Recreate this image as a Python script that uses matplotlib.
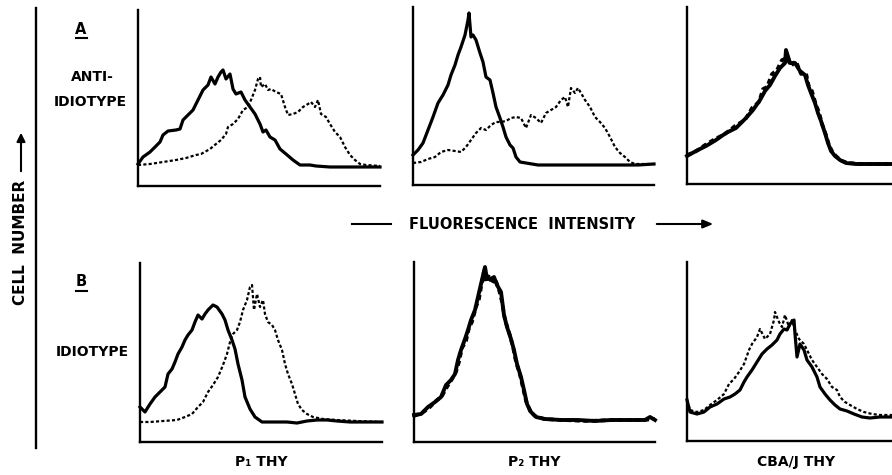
import matplotlib
matplotlib.use("Agg")
import matplotlib.pyplot as plt
from matplotlib.lines import Line2D
from matplotlib.patches import FancyArrowPatch

# Histograms (channel vs. cell count, arbitrary units)
# Row A: anti-idiotype
a1_solid_x = [0, 5, 12, 17, 22, 25, 30, 38, 42, 45, 50, 55, 60, 65, 70, 73, 77, 80, 83, 85, 88, 92, 95, 98, 103, 107, 112, 117, 122, 125, 128, 132, 137, 142, 148, 155, 162, 172, 178, 192, 208, 225, 242]
a1_solid_y = [22, 29, 34, 39, 44, 51, 55, 56, 57, 66, 71, 76, 86, 96, 101, 109, 102, 109, 114, 116, 107, 112, 97, 92, 94, 86, 79, 72, 62, 54, 56, 49, 46, 37, 32, 26, 21, 21, 20, 19, 19, 19, 19]
a1_dot_x = [0, 12, 25, 38, 48, 58, 63, 72, 78, 83, 88, 90, 95, 100, 105, 110, 113, 117, 120, 122, 123, 127, 130, 133, 138, 143, 147, 150, 155, 160, 165, 170, 173, 177, 180, 183, 188, 192, 197, 202, 207, 212, 217, 222, 228, 242]
a1_dot_y = [21, 22, 24, 26, 28, 31, 32, 37, 42, 46, 52, 59, 62, 67, 76, 79, 86, 96, 107, 109, 99, 102, 96, 97, 94, 92, 79, 71, 72, 74, 79, 82, 84, 79, 86, 72, 69, 62, 54, 49, 39, 31, 26, 22, 21, 20]

a2_solid_x = [0, 5, 10, 15, 20, 25, 30, 35, 38, 42, 45, 48, 52, 55, 56, 58, 60, 63, 67, 70, 73, 77, 80, 83, 87, 90, 93, 97, 100, 103, 107, 113, 125, 142, 158, 192, 225, 241]
a2_solid_y = [30, 35, 42, 55, 68, 82, 90, 100, 110, 120, 130, 138, 150, 165, 172, 148, 150, 145, 132, 123, 108, 105, 92, 78, 67, 58, 48, 40, 37, 28, 23, 22, 20, 20, 20, 20, 20, 21]
a2_dot_x = [0, 8, 15, 22, 28, 35, 42, 48, 53, 58, 63, 68, 73, 78, 83, 88, 93, 98, 103, 108, 113, 118, 123, 128, 133, 138, 143, 148, 152, 155, 158, 162, 165, 168, 172, 177, 182, 187, 192, 197, 202, 207, 212, 217, 222, 241]
a2_dot_y = [22, 23, 26, 28, 33, 35, 34, 33, 38, 45, 52, 57, 55, 60, 63, 63, 64, 67, 68, 67, 57, 70, 67, 62, 72, 75, 78, 85, 88, 78, 97, 92, 97, 92, 85, 78, 68, 63, 57, 48, 38, 32, 28, 23, 21, 21]

a3_solid_x = [0, 9, 19, 29, 39, 49, 59, 66, 73, 78, 83, 88, 93, 98, 99, 103, 108, 113, 118, 121, 124, 128, 131, 134, 138, 141, 144, 148, 153, 159, 169, 186, 205]
a3_solid_y = [28, 33, 38, 44, 51, 56, 66, 74, 84, 93, 99, 108, 116, 121, 134, 121, 121, 113, 109, 99, 91, 81, 71, 63, 51, 41, 33, 28, 24, 21, 20, 20, 20]
a3_dot_x = [0, 8, 18, 28, 38, 48, 58, 65, 72, 76, 80, 85, 90, 95, 100, 104, 109, 114, 119, 122, 125, 129, 132, 135, 139, 142, 146, 150, 155, 162, 175, 205]
a3_dot_y = [29, 32, 39, 45, 50, 58, 64, 76, 82, 95, 97, 110, 114, 124, 126, 118, 123, 110, 111, 97, 93, 79, 72, 60, 49, 39, 31, 27, 23, 21, 20, 20]

# Row B: idiotype
b1_solid_x = [0, 5, 10, 15, 20, 25, 28, 32, 35, 38, 42, 45, 48, 52, 55, 58, 62, 65, 68, 73, 77, 82, 85, 88, 92, 95, 98, 102, 105, 110, 115, 122, 133, 147, 157, 167, 177, 187, 197, 210, 223, 242]
b1_solid_y = [35, 30, 38, 45, 50, 55, 68, 73, 80, 88, 95, 102, 107, 112, 120, 127, 123, 128, 132, 137, 135, 128, 122, 112, 102, 93, 78, 62, 45, 33, 25, 20, 20, 20, 19, 21, 22, 22, 21, 20, 20, 20]
b1_dot_x = [0, 10, 23, 37, 45, 52, 58, 63, 68, 73, 78, 83, 87, 90, 93, 97, 100, 103, 107, 110, 112, 114, 117, 120, 123, 125, 128, 132, 135, 138, 142, 145, 148, 152, 155, 158, 162, 167, 173, 183, 197, 217, 242]
b1_dot_y = [20, 20, 21, 22, 25, 28, 35, 40, 50, 57, 65, 77, 88, 100, 108, 112, 120, 132, 142, 155, 157, 132, 148, 135, 142, 128, 120, 117, 112, 102, 92, 78, 68, 58, 48, 38, 32, 28, 25, 23, 22, 21, 20]

b2_solid_x = [0, 7, 14, 21, 27, 32, 37, 41, 44, 47, 51, 54, 57, 61, 64, 67, 71, 73, 77, 80, 83, 87, 90, 93, 97, 100, 103, 107, 110, 113, 117, 122, 131, 147, 164, 181, 197, 217, 231, 236, 241]
b2_solid_y = [27, 28, 35, 40, 45, 57, 62, 68, 82, 92, 103, 112, 122, 132, 145, 158, 175, 163, 163, 165, 157, 150, 127, 115, 103, 92, 78, 65, 52, 38, 30, 25, 23, 22, 22, 21, 22, 22, 22, 25, 22]
b2_dot_x = [0, 8, 15, 22, 28, 33, 38, 42, 45, 48, 52, 55, 58, 62, 65, 68, 70, 72, 75, 78, 81, 85, 88, 91, 95, 99, 102, 106, 109, 112, 116, 121, 130, 148, 170, 200, 230, 241]
b2_dot_y = [26, 29, 34, 41, 46, 55, 63, 70, 80, 94, 101, 114, 120, 135, 143, 160, 171, 160, 168, 158, 164, 152, 140, 122, 110, 95, 80, 67, 54, 41, 31, 26, 23, 22, 21, 22, 22, 23]

b3_solid_x = [0, 3, 10, 17, 23, 30, 37, 43, 48, 53, 57, 60, 65, 70, 75, 80, 85, 90, 93, 97, 100, 103, 107, 108, 110, 113, 117, 120, 125, 130, 133, 138, 143, 148, 153, 160, 167, 175, 183, 193, 205]
b3_solid_y = [41, 29, 27, 29, 34, 37, 42, 44, 47, 51, 59, 64, 71, 79, 87, 92, 96, 101, 107, 112, 111, 117, 121, 107, 84, 97, 91, 81, 74, 64, 54, 47, 41, 36, 32, 30, 27, 24, 23, 24, 24]
b3_dot_x = [0, 3, 10, 17, 23, 30, 37, 42, 47, 52, 57, 62, 65, 70, 73, 78, 83, 87, 88, 92, 95, 98, 102, 105, 108, 112, 117, 120, 125, 130, 135, 140, 145, 150, 153, 158, 163, 170, 177, 185, 193, 205]
b3_dot_y = [41, 31, 29, 31, 36, 41, 47, 57, 62, 69, 77, 91, 97, 104, 112, 102, 107, 121, 129, 119, 114, 126, 114, 121, 111, 102, 97, 91, 81, 74, 67, 62, 54, 51, 44, 39, 36, 32, 29, 27, 26, 26]

col_labels = ["P\u2081 THY", "P\u2082 THY", "CBA/J THY"]

W, H = 892, 475
fig = plt.figure(figsize=(W / 100, H / 100), dpi=100)
fig.patch.set_facecolor("white")

def fx(px):
    return px / W

def fy(py):
    return 1 - py / H

def panel(left, top, right, bottom):
    ax = fig.add_axes([fx(left), fy(bottom), (right - left) / W, (bottom - top) / H])
    ax.set_xlim(0, right - left)
    ax.set_ylim(0, bottom - top)
    for s in ["top", "right"]:
        ax.spines[s].set_visible(False)
    for s in ["left", "bottom"]:
        ax.spines[s].set_linewidth(1.7)
        ax.spines[s].set_color("black")
    ax.set_xticks([])
    ax.set_yticks([])
    ax.patch.set_alpha(0)
    return ax

# (left, top, right, bottom) in pixels
boxes = [
    (138, 10, 380, 186), (413, 7, 654, 185), (687, 7, 892, 184),
    (140, 263, 382, 442), (414, 262, 655, 442), (687, 262, 892, 441),
]
curves = [
    (a1_solid_x, a1_solid_y, a1_dot_x, a1_dot_y),
    (a2_solid_x, a2_solid_y, a2_dot_x, a2_dot_y),
    (a3_solid_x, a3_solid_y, a3_dot_x, a3_dot_y),
    (b1_solid_x, b1_solid_y, b1_dot_x, b1_dot_y),
    (b2_solid_x, b2_solid_y, b2_dot_x, b2_dot_y),
    (b3_solid_x, b3_solid_y, b3_dot_x, b3_dot_y),
]

for i, (box, (sx, sy, dx, dy)) in enumerate(zip(boxes, curves)):
    ax = panel(*box)
    overlap = i in (2, 4)
    ax.plot(dx, dy, color="black", lw=2.6 if overlap else 1.6,
            linestyle=(0, (1.4, 1.0)), clip_on=False)
    ax.plot(sx, sy, color="black", lw=2.8 if overlap else 2.3,
            solid_joinstyle="round", clip_on=False)

txt = dict(fontweight="bold", color="black", family="DejaVu Sans")

# row labels
fig.text(fx(81), fy(29), "A", ha="center", va="center", fontsize=10.5, **txt)
fig.add_artist(Line2D([fx(76), fx(87)], [fy(38), fy(38)], color="black", lw=1.5))
fig.text(fx(92), fy(77), "ANTI-", ha="center", va="center", fontsize=10, **txt)
fig.text(fx(90), fy(102), "IDIOTYPE", ha="center", va="center", fontsize=10, **txt)
fig.text(fx(81), fy(282), "B", ha="center", va="center", fontsize=10.5, **txt)
fig.add_artist(Line2D([fx(76), fx(87)], [fy(291), fy(291)], color="black", lw=1.5))
fig.text(fx(92), fy(352), "IDIOTYPE", ha="center", va="center", fontsize=10, **txt)

# column labels
for box, lab in zip(boxes[3:], col_labels):
    cx = (box[0] + box[2]) / 2 if box[2] < 890 else 796
    fig.text(fx(cx), fy(462), lab, ha="center", va="center", fontsize=10, **txt)

# y axis: cell number
fig.add_artist(Line2D([fx(36), fx(36)], [fy(8), fy(448)], color="black", lw=1.7))
fig.text(fx(21), fy(242), "CELL  NUMBER", rotation=90, ha="center", va="center", fontsize=11, **txt)
fig.add_artist(FancyArrowPatch(
    (fx(21), fy(174)), (fx(21), fy(130)), transform=fig.transFigure,
    arrowstyle="-|>,head_length=5,head_width=2.5", color="black", lw=1.5))

# x axis: fluorescence intensity
fig.add_artist(Line2D([fx(352), fx(391)], [fy(224), fy(224)], color="black", lw=1.5))
fig.text(fx(522), fy(224), "FLUORESCENCE  INTENSITY", ha="center", va="center", fontsize=10.5, **txt)
fig.add_artist(FancyArrowPatch(
    (fx(654), fy(224)), (fx(716), fy(224)), transform=fig.transFigure,
    arrowstyle="-|>,head_length=6,head_width=2.5", color="black", lw=1.5))

fig.savefig("out.png", dpi=100, facecolor="white")
